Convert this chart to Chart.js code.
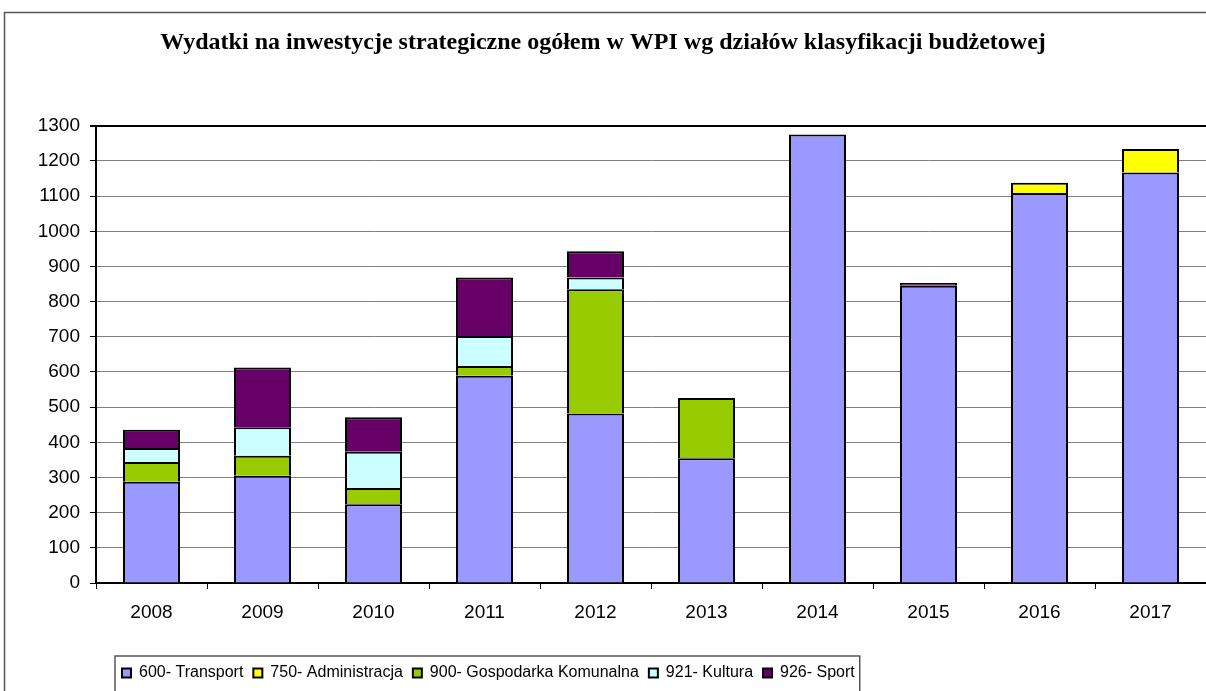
<!DOCTYPE html>
<html>
<head>
<meta charset="utf-8">
<script src="https://cdn.jsdelivr.net/npm/chart.js@4"></script>
<style>
  html, body { margin: 0; padding: 0; background: #fff; }
  #wrap { width: 1206px; height: 691px; }
</style>
</head>
<body>
<div id="wrap"><canvas id="chartCanvas"></canvas></div>
<script>
var years = ['2008', '2009', '2010', '2011', '2012', '2013', '2014', '2015', '2016', '2017'];
// null = no segment in that year
var transport = [288, 305, 224, 589, 482, 355, 1275, 845, 1109, 1167];
var administracja = [null, null, null, null, null, null, null, null, 29, 67];
var gospodarka = [56, 57, 46, 28, 353, 171, null, null, null, null];
var kultura = [40, 81, 103, 85, 34, null, null, null, null, null];
var sport = [52, 170, 98, 167, 74, null, null, 8, null, null];
var yTicks = [0, 100, 200, 300, 400, 500, 600, 700, 800, 900, 1000, 1100, 1200, 1300];

var sansFont = 'Liberation Sans';

// frame round the whole chart and round the legend
var framePlugin = {
    id: 'frames',
    afterLayout: function(chart) {
        // legend sits left of centre like in the original
        var lg = chart.legend;
        var w = lg.right - lg.left;
        lg.left = 112;
        lg.right = lg.left + w;
    },
    beforeDraw: function(chart) {
        var ctx = chart.ctx;
        ctx.save();
        ctx.fillStyle = '#fff';
        ctx.fillRect(0, 0, chart.width, chart.height);
        ctx.strokeStyle = '#555';
        ctx.lineWidth = 1.5;
        ctx.strokeRect(4.5, 12.5, chart.width + 50, chart.height + 50);
        ctx.restore();
    },
    afterDraw: function(chart) {
        var lg = chart.legend;
        var boxes = lg.legendHitBoxes;
        if (!boxes || !boxes.length) return;
        var first = boxes[0], last = boxes[boxes.length - 1];
        var ctx = chart.ctx;
        ctx.save();
        ctx.strokeStyle = '#555';
        ctx.lineWidth = 1.5;
        ctx.strokeRect(first.left - 7, lg.top + 1, last.left + last.width - first.left + 12, 60);
        ctx.restore();
    }
};

var mychart = new Chart(document.getElementById('chartCanvas'), {
    type: 'bar',
    data: {
        labels: years,
        datasets: [
            { label: '600- Transport', data: transport, backgroundColor: '#9999FF' },
            { label: '750- Administracja', data: administracja, backgroundColor: '#FFFF00' },
            { label: '900- Gospodarka Komunalna', data: gospodarka, backgroundColor: '#99CC00' },
            { label: '921- Kultura', data: kultura, backgroundColor: '#CCFFFF' },
            { label: '926- Sport', data: sport, backgroundColor: '#660066' }
        ].map(function(ds) {
            ds.borderColor = '#000';
            ds.borderWidth = 2;
            ds.borderSkipped = 'start';
            ds.inflateAmount = 0;
            ds.barThickness = 57;
            ds.categoryPercentage = 1.0;
            return ds;
        })
    },
    options: {
        responsive: true,
        maintainAspectRatio: false,
        animation: false,
        layout: { padding: { left: 0, right: 0, top: 0, bottom: 0 } },
        plugins: {
            title: {
                display: true,
                text: 'Wydatki na inwestycje strategiczne ogółem w WPI wg działów klasyfikacji budżetowej',
                color: '#000',
                font: { family: 'Liberation Serif', size: 24, weight: 'bold' },
                padding: { top: 28, bottom: 69 }
            },
            legend: {
                position: 'bottom',
                align: 'start',
                labels: {
                    color: '#000',
                    font: { family: sansFont, size: 16 },
                    boxWidth: 9,
                    boxHeight: 9,
                    padding: 10
                }
            },
            tooltip: { enabled: false }
        },
        scales: {
            x: {
                stacked: true,
                grid: {
                    offset: true,
                    drawOnChartArea: false,
                    drawTicks: true,
                    tickLength: 6,
                    tickColor: '#000'
                },
                border: { color: '#000', width: 2 },
                ticks: {
                    color: '#000',
                    font: { family: sansFont, size: 19 },
                    padding: 12,
                    maxRotation: 0
                },
                afterFit: function(scale) {
                    scale.height = 72;
                }
            },
            y: {
                stacked: true,
                min: 0,
                max: 1300,
                afterBuildTicks: function(scale) {
                    scale.ticks = yTicks.map(function(v) { return { value: v }; });
                },
                grid: {
                    color: function(c) { return c.tick && c.tick.value === 1300 ? '#000' : '#808080'; },
                    lineWidth: function(c) { return c.tick && c.tick.value === 1300 ? 2 : 1; },
                    drawTicks: true,
                    tickLength: 6,
                    tickColor: '#000'
                },
                border: { color: '#000', width: 2 },
                ticks: {
                    color: '#000',
                    font: { family: sansFont, size: 19 },
                    padding: 10,
                    callback: function(v) { return String(v); }
                },
                afterFit: function(scale) {
                    scale.width = 96;
                }
            }
        }
    },
    plugins: [framePlugin]
});
</script>
</body>
</html>
